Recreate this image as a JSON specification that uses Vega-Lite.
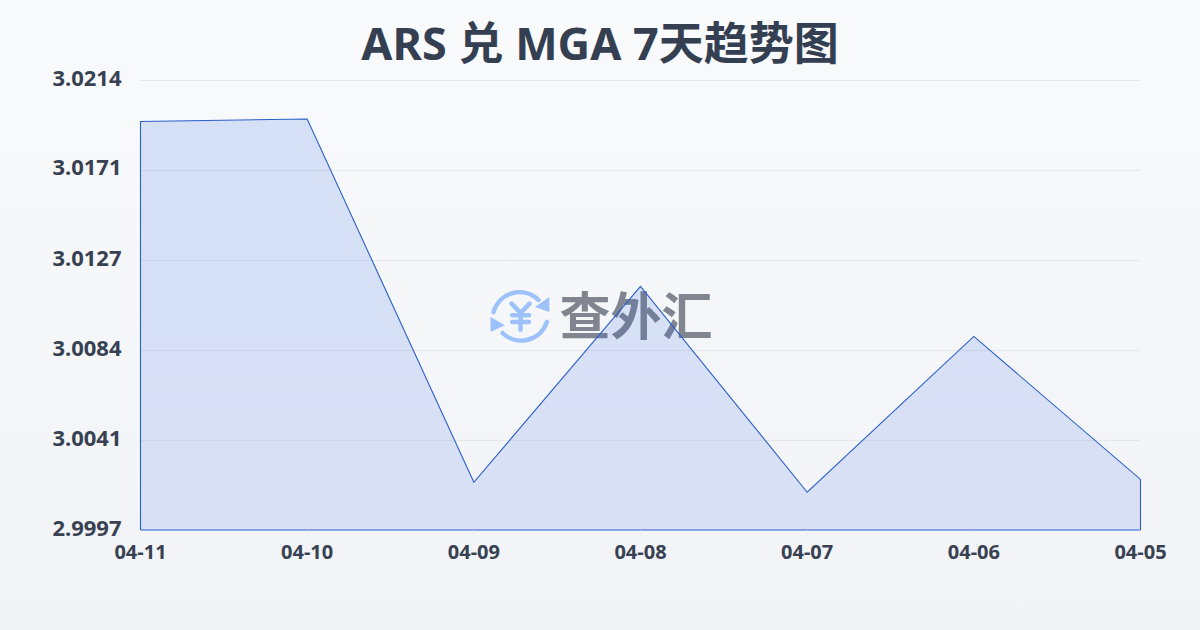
{
"$schema":"https://vega.github.io/schema/vega-lite/v6.json",
"width":1000,"height":450,
"autosize":{"type":"none"},
"padding":{"left":140,"top":80,"right":60,"bottom":100},
"background":"#f5f7fa",
"view":{"stroke":null},
"datasets":{
"rates":[
{"date":"04-11","rate":3.01943},{"date":"04-10","rate":3.01955},{"date":"04-09","rate":3.00206},{"date":"04-08","rate":3.01149},{"date":"04-07","rate":3.00158},{"date":"04-06","rate":3.00908},{"date":"04-05","rate":3.00220}],
"grid":[{"tick":3.0214},{"tick":3.01707},{"tick":3.01273},{"tick":3.0084},{"tick":3.00407}],
"page":[{"x0":0,"x1":1,"y0":0,"y1":1,"tx":0.5,"ty":0.927,"label":"ARS 兑 MGA 7天趋势图"}],
"logo":[{"x":0.4338,"y":0.5,"label":"查外汇","tx":0.53,"ty":0.492}]
},
"resolve":{"scale":{"x":"independent","y":"independent"},"axis":{"x":"independent","y":"independent"}},
"layer":[
{"data":{"name":"page"},
 "mark":{"type":"rect","clip":false,"fill":{"gradient":"linear","x1":0,"y1":0,"x2":0,"y2":1,"stops":[{"offset":0,"color":"#f8fafc"},{"offset":1,"color":"#f1f3f6"}]}},
 "encoding":{
  "x":{"field":"x0","type":"quantitative","axis":null,"scale":{"domain":[0,1],"range":[-140,1060],"nice":false,"zero":false}},
  "x2":{"field":"x1"},
  "y":{"field":"y0","type":"quantitative","axis":null,"scale":{"domain":[0,1],"range":[550,-80],"nice":false,"zero":false}},
  "y2":{"field":"y1"}}},
{"data":{"name":"page"},
 "mark":{"type":"text","clip":false,"font":"Noto Sans, Noto Sans CJK SC","fontSize":45,"fontWeight":"bold","color":"#353f52","align":"center","baseline":"middle"},
 "encoding":{
  "text":{"field":"label"},
  "x":{"field":"tx","type":"quantitative","axis":null,"scale":{"domain":[0,1],"range":[-140,1060],"nice":false,"zero":false}},
  "y":{"field":"ty","type":"quantitative","axis":null,"scale":{"domain":[0,1],"range":[550,-80],"nice":false,"zero":false}}}},
{"data":{"name":"grid"},
 "mark":{"type":"rule","color":"#e5e7eb","strokeWidth":1,"yOffset":0.5},
 "encoding":{"y":{"field":"tick","type":"quantitative","axis":null,"scale":{"domain":[2.99974,3.0214],"range":[450,0],"nice":false,"zero":false}}}},
{"data":{"name":"logo"},
 "mark":{"type":"point","clip":false,"filled":false,"opacity":1,"stroke":"#9dc1fb","strokeWidth":4.5,"strokeCap":"round","size":3600,
  "shape":"M -0.9,-0.1 A 0.9 0.9 0 0 1 0.6,-0.5 M 0.88,0.23 A 0.9 0.9 0 0 1 -0.6,0.6 M -0.3,-0.38 L 0,-0.07 L 0.3,-0.38 M 0,-0.07 L 0,0.49 M -0.28,0.01 L 0.28,0.01 M -0.28,0.23 L 0.28,0.23"},
 "encoding":{
  "x":{"field":"x","type":"quantitative","axis":null,"scale":{"domain":[0,1],"range":[-140,1060],"nice":false,"zero":false}},
  "y":{"field":"y","type":"quantitative","axis":null,"scale":{"domain":[0,1],"range":[550,-80],"nice":false,"zero":false}}}},
{"data":{"name":"logo"},
 "mark":{"type":"point","clip":false,"filled":true,"opacity":1,"fill":"#9dc1fb","stroke":null,"size":3600,
  "shape":"M 0.96,-0.6 L 0.96,-0.1 L 0.48,-0.27 Z M -1,0.07 L -1,0.57 L -0.52,0.34 Z"},
 "encoding":{
  "x":{"field":"x","type":"quantitative","axis":null,"scale":{"domain":[0,1],"range":[-140,1060],"nice":false,"zero":false}},
  "y":{"field":"y","type":"quantitative","axis":null,"scale":{"domain":[0,1],"range":[550,-80],"nice":false,"zero":false}}}},
{"data":{"name":"logo"},
 "mark":{"type":"text","clip":false,"font":"Noto Sans CJK SC","fontSize":51,"fontWeight":"bold","color":"#80858f","align":"center","baseline":"middle"},
 "encoding":{
  "text":{"field":"label"},
  "x":{"field":"tx","type":"quantitative","axis":null,"scale":{"domain":[0,1],"range":[-140,1060],"nice":false,"zero":false}},
  "y":{"field":"ty","type":"quantitative","axis":null,"scale":{"domain":[0,1],"range":[550,-80],"nice":false,"zero":false}}}},
{"data":{"name":"rates"},
 "mark":{"type":"area","xOffset":0.5,"yOffset":0.5,"fill":{"gradient":"linear","x1":0,"y1":0,"x2":0,"y2":1,"stops":[{"offset":0,"color":"rgba(40,100,225,0.16)"},{"offset":1,"color":"rgba(26,78,224,0.12)"}]},"stroke":"#2b5fc9","strokeWidth":1.1,"strokeOpacity":1},
 "encoding":{
  "x":{"field":"date","type":"ordinal","sort":null,"scale":{"type":"point","padding":0},
   "axis":{"title":null,"labelAngle":0,"labelFont":"Noto Sans","labelFontSize":20,"labelFontWeight":"bold","labelColor":"#374151","labelPadding":2,"tickColor":"#eef0f2","tickSize":10,"domain":false,"grid":false,"zindex":1,"labelOverlap":false}},
  "y":{"field":"rate","type":"quantitative","scale":{"domain":[2.99974,3.0214],"nice":false,"zero":false},
   "axis":{"title":null,"values":[2.99974,3.00407,3.0084,3.01273,3.01707,3.0214],"format":".4f","labelFont":"Noto Sans","labelFontSize":22,"labelFontWeight":"bold","labelColor":"#374151","labelPadding":19,"labelBaseline":"middle","labelOffset":-2,"ticks":false,"domain":false,"grid":false,"zindex":1}},
  "y2":{"datum":2.99974}}}
]
}
